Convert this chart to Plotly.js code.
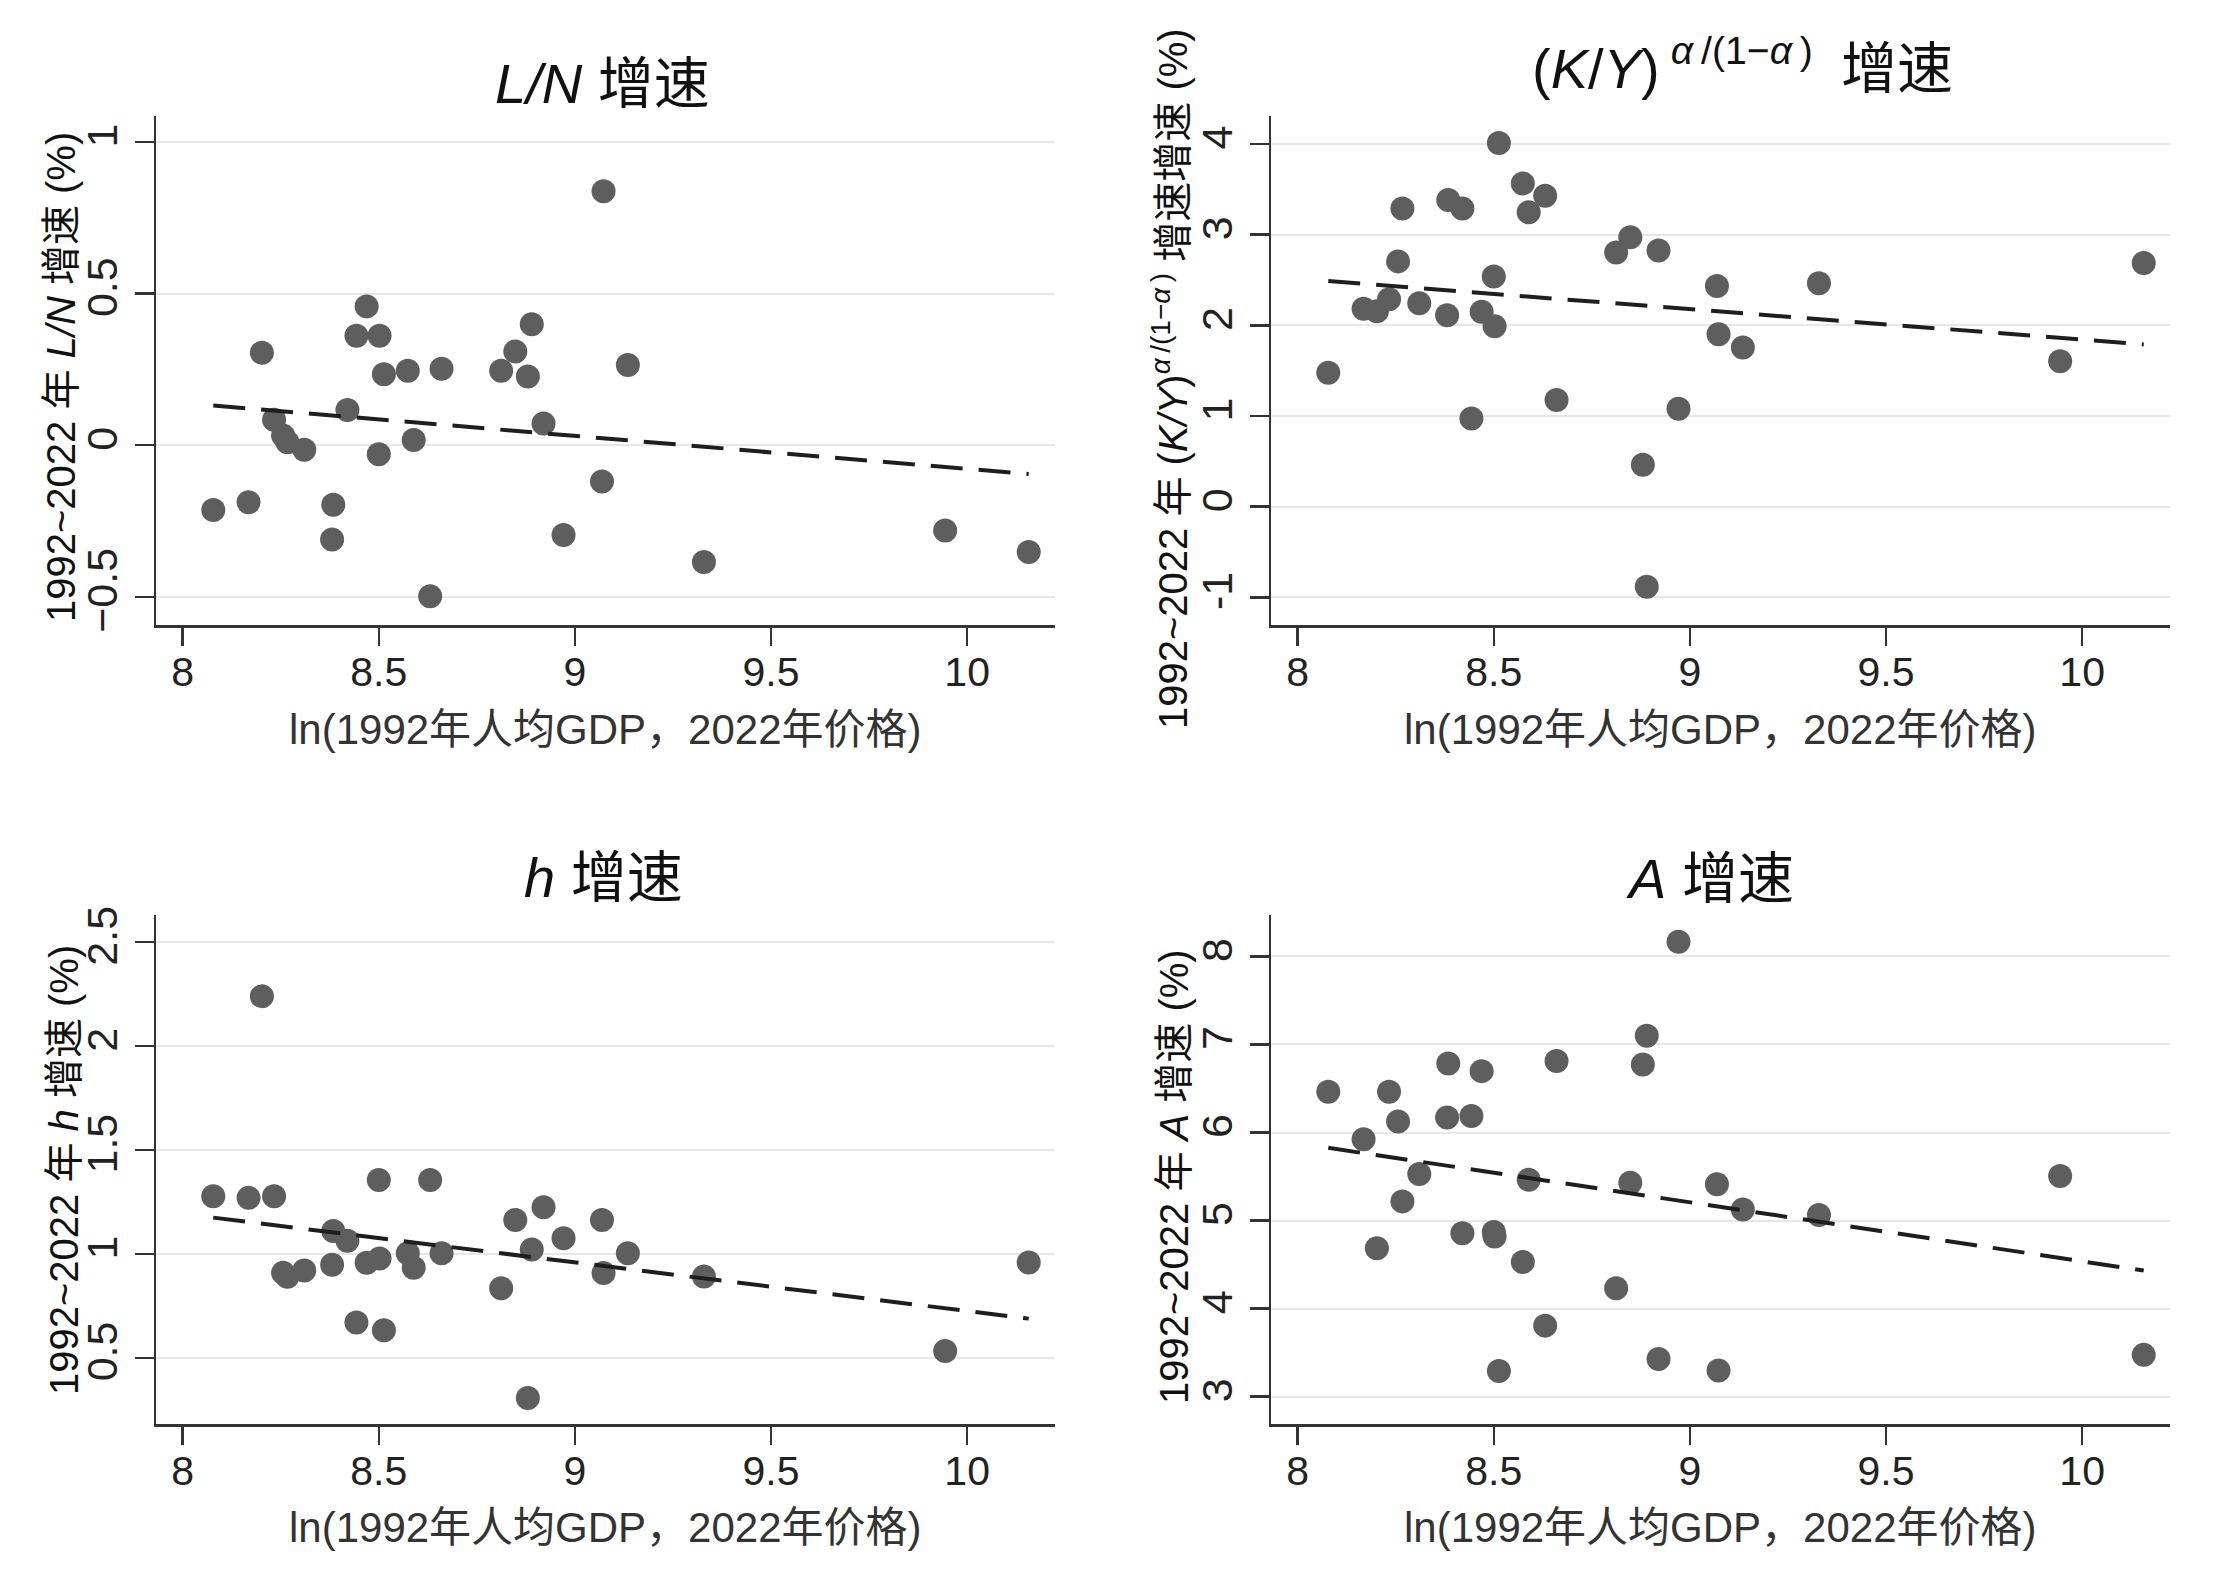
<!DOCTYPE html>
<html>
<head>
<meta charset="utf-8">
<script src="https://cdn.plot.ly/plotly-3.0.1.min.js"></script>
<style>
    html, body { margin: 0; padding: 0; background: #fff; }
    #chart { width: 2220px; height: 1582px; }
</style>
</head>
<body>
<div id="chart"></div>
<script>
// ln(1992 per-capita GDP, 2022 prices), one value per province
const lnGdp = [8.078, 8.168, 8.202, 8.233, 8.256, 8.267, 8.310, 8.381, 8.384, 8.420,
    8.443, 8.469, 8.500, 8.502, 8.513, 8.574, 8.589, 8.631, 8.660, 8.812,
    8.848, 8.880, 8.890, 8.920, 8.971, 9.069, 9.073, 9.135, 9.329, 9.944, 10.157];

// 1992~2022 growth rates (%)
const lnGrowth = [-0.214, -0.188, 0.305, 0.084, 0.032, 0.010, -0.015, -0.311, -0.196, 0.116,
    0.361, 0.458, -0.030, 0.361, 0.234, 0.246, 0.017, -0.498, 0.252, 0.246,
    0.309, 0.227, 0.399, 0.072, -0.296, -0.120, 0.838, 0.265, -0.385, -0.281, -0.352];
const kyGrowth = [1.478, 2.183, 2.156, 2.289, 2.706, 3.289, 2.244, 2.111, 3.383, 3.289,
    0.972, 2.150, 2.539, 1.989, 4.011, 3.566, 3.247, 3.430, 1.177, 2.805,
    2.972, 0.462, -0.883, 2.826, 1.081, 2.435, 1.902, 1.755, 2.465, 1.603, 2.687];
const hGrowth = [1.278, 1.270, 2.240, 1.278, 0.910, 0.890, 0.921, 0.948, 1.111, 1.064,
    0.670, 0.958, 1.356, 0.978, 0.633, 1.003, 0.934, 1.356, 1.003, 0.835,
    1.163, 0.307, 1.022, 1.225, 1.076, 1.163, 0.909, 1.003, 0.892, 0.533, 0.959];
const aGrowth = [6.462, 5.923, 4.685, 6.462, 6.124, 5.218, 5.528, 6.170, 6.783, 4.857,
    6.187, 6.697, 4.870, 4.820, 3.291, 4.530, 5.464, 3.807, 6.812, 4.232,
    5.430, 6.772, 7.099, 3.429, 8.165, 5.413, 3.297, 5.126, 5.063, 5.505, 3.475];

// fitted (dashed) line, read at its two ends
const fitX = [8.078, 10.157];
const lnFit = [0.131, -0.095];
const kyFit = [2.489, 1.790];
const hFit = [1.175, 0.689];
const aFit = [5.826, 4.432];

const xTicks = [8, 8.5, 9, 9.5, 10];
const xTickText = ['8', '8.5', '9', '9.5', '10'];
const lnTicks = [-0.5, 0, 0.5, 1];
const lnTickText = ['\u22120.5', '0', '0.5', '1'];
const kyTicks = [-1, 0, 1, 2, 3, 4];
const kyTickText = ['-1', '0', '1', '2', '3', '4'];
const hTicks = [0.5, 1, 1.5, 2, 2.5];
const hTickText = ['0.5', '1', '1.5', '2', '2.5'];
const aTicks = [3, 4, 5, 6, 7, 8];
const aTickText = ['3', '4', '5', '6', '7', '8'];

const xTitle = 'ln(1992年人均GDP，2022年价格)';
const kyExp = '<sup><i>α</i>\u2009/(1\u2212<i>α</i>\u2009)</sup>';

const W = 2220, H = 1582;
const FONT = 'Liberation Sans, Arial, Noto Sans CJK SC, sans-serif';

// pixel geometry of each panel: left, right, top, bottom of the plot area
const panels = [
    {y: lnGrowth, fit: lnFit, ticks: lnTicks, tickText: lnTickText, yRange: [-0.593, 1.086],
        box: [156, 1055, 116, 625],
        title: '<i>L/N</i> 增速', titleX: 602, titleY: 83,
        yTitle: '1992~2022 年 <i>L/N</i> 增速 (%)', yTitleX: 61, yTitleY: 377,
        xTitleY: 729},
    {y: kyGrowth, fit: kyFit, ticks: kyTicks, tickText: kyTickText, yRange: [-1.306, 4.31],
        box: [1271, 2170, 116, 625],
        title: '(<i>K</i>/<i>Y</i>)\u2009' + kyExp + '\u2002增速', titleX: 1742, titleY: 64,
        yTitle: '1992~2022 年 (<i>K/Y</i>)' + kyExp + ' 增速增速 (%)', yTitleX: 1170, yTitleY: 378,
        xTitleY: 729},
    {y: hGrowth, fit: hFit, ticks: hTicks, tickText: hTickText, yRange: [0.182, 2.631],
        box: [156, 1055, 915, 1424],
        title: '<i>h</i> 增速', titleX: 603, titleY: 877,
        yTitle: '1992~2022 年 <i>h</i> 增速 (%)', yTitleX: 64, yTitleY: 1170,
        xTitleY: 1527},
    {y: aGrowth, fit: aFit, ticks: aTicks, tickText: aTickText, yRange: [2.69, 8.47],
        box: [1271, 2170, 915, 1424],
        title: '<i>A</i> 增速', titleX: 1710, titleY: 879,
        yTitle: '1992~2022 年 <i>A</i> 增速 (%)', yTitleX: 1174, yTitleY: 1177,
        xTitleY: 1527},
];

const px = v => v / W;
const py = v => 1 - v / H;

const traces = [];
const layout = {
    width: W,
    height: H,
    margin: {l: 0, r: 0, t: 0, b: 0},
    paper_bgcolor: '#ffffff',
    plot_bgcolor: '#ffffff',
    font: {family: FONT, size: 41, color: '#222222'},
    showlegend: false,
    annotations: [],
};

panels.forEach(function (p, i) {
    const n = i === 0 ? '' : String(i + 1);
    const xa = 'x' + n, ya = 'y' + n;

    traces.push({
        x: lnGdp, y: p.y, xaxis: xa, yaxis: ya,
        type: 'scatter', mode: 'markers',
        marker: {size: 24, color: '#5e5e5e', line: {width: 0}},
        hoverinfo: 'x+y',
    });
    traces.push({
        x: fitX, y: p.fit, xaxis: xa, yaxis: ya,
        type: 'scatter', mode: 'lines',
        line: {color: '#1e1e1e', width: 4, dash: '32px,16px'},
        hoverinfo: 'skip',
    });

    const [l, r, t, b] = p.box;
    layout['xaxis' + n] = {
        domain: [px(l), px(r)],
        range: [7.932, 10.224],
        anchor: ya,
        tickvals: xTicks,
        ticktext: xTickText,
        ticks: 'outside',
        ticklen: 18,
        tickwidth: 2.5,
        tickcolor: '#333333',
        showline: true,
        linecolor: '#333333',
        linewidth: 2.5,
        showgrid: false,
        zeroline: false,
        tickfont: {family: FONT, size: 41, color: '#222222'},
        ticklabelstandoff: -9,
        fixedrange: true,
    };
    layout['yaxis' + n] = {
        domain: [py(b), py(t)],
        range: p.yRange,
        anchor: xa,
        tickvals: p.ticks,
        ticktext: p.tickText,
        tickangle: -90,
        ticks: 'outside',
        ticklen: 19,
        tickwidth: 2.5,
        tickcolor: '#333333',
        showline: true,
        linecolor: '#333333',
        linewidth: 2.5,
        showgrid: true,
        gridcolor: '#e7e7e7',
        gridwidth: 2,
        zeroline: false,
        tickfont: {family: FONT, size: 43, color: '#222222'},
        fixedrange: true,
    };

    layout.annotations.push({
        text: p.title, xref: 'paper', yref: 'paper',
        x: px(p.titleX), y: py(p.titleY), xanchor: 'center', yanchor: 'middle',
        showarrow: false, font: {family: FONT, size: 56, color: '#111111'},
    });
    layout.annotations.push({
        text: p.yTitle, xref: 'paper', yref: 'paper', textangle: -90,
        x: px(p.yTitleX), y: py(p.yTitleY), xanchor: 'center', yanchor: 'middle',
        showarrow: false, font: {family: FONT, size: 40, color: '#111111'},
    });
    layout.annotations.push({
        text: xTitle, xref: 'paper', yref: 'paper',
        x: px((l + r) / 2), y: py(p.xTitleY), xanchor: 'center', yanchor: 'middle',
        showarrow: false, font: {family: FONT, size: 42, color: '#333333'},
    });
});

Plotly.newPlot('chart', traces, layout, {displayModeBar: false, staticPlot: true});
</script>
</body>
</html>
